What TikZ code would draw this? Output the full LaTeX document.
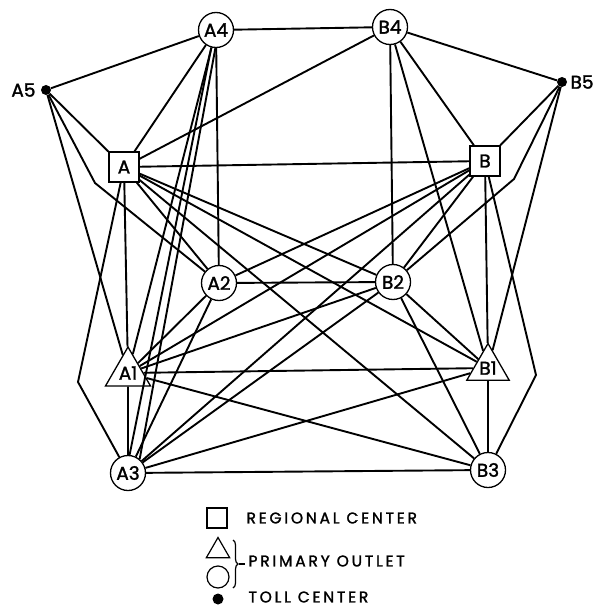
\documentclass[tikz,border=0pt]{standalone}
\usepackage{fontspec}
\setmainfont{Poppins}[FakeBold=1.6]
\newfontfamily\legfont{Poppins}[LetterSpace=18,FakeBold=1.6]
\usetikzlibrary{shapes.geometric,decorations.pathreplacing}
\begin{document}
\begin{tikzpicture}[x=1pt,y=-1pt,
  edge/.style={line width=1.9pt},
  nfont/.style={font=\fontsize{18.5}{18.5}\selectfont},
  circ/.style={circle,draw,fill=white,minimum size=35pt,inner sep=0pt,line width=1.3pt,nfont},
  sq/.style={rectangle,draw,fill=white,minimum size=30pt,inner sep=0pt,line width=1.3pt,nfont},
  tri/.style={regular polygon,regular polygon sides=3,draw,fill=white,minimum size=49pt,inner sep=0pt,line width=1.3pt,nfont},
  dot/.style={circle,fill=black,minimum size=10pt,inner sep=0pt},
  lab/.style={nfont},
  leg/.style={font=\legfont\fontsize{15.5}{16}\selectfont,anchor=west}]
\useasboundingbox (0,0) rectangle (599,607);
\coordinate (pA4) at (216,30);
\coordinate (pB4) at (390,27);
\coordinate (pA5) at (46,90);
\coordinate (pB5) at (562,82);
\coordinate (pA) at (124,167);
\coordinate (pB) at (485,161);
\coordinate (pA2) at (219,283);
\coordinate (pB2) at (393,282);
\coordinate (pA1) at (128,373);
\coordinate (pB1) at (488,368);
\coordinate (pA3) at (128,473);
\coordinate (pB3) at (488,470);
\coordinate (k1) at (95,183);
\coordinate (k2) at (514,179);
\coordinate (k3) at (78,382);
\coordinate (k4) at (536,375);
% nodes (shapes placed first, edges drawn behind)
\node[circ] (A4) at (pA4) {A4};
\node[circ] (B4) at (pB4) {B4};
\node[dot] (A5) at (pA5) {};
\node[dot] (B5) at (pB5) {};
\node[sq] (A) at (pA) {A};
\node[sq] (B) at (pB) {B};
\node[circ] (A2) at (pA2) {A2};
\node[circ] (B2) at (pB2) {B2};
\node[tri] (A1) at (pA1) {A1};
\node[tri] (B1) at (pB1) {B1};
\node[circ] (A3) at (pA3) {A3};
\node[circ] (B3) at (pB3) {B3};
\begin{scope}[edge]
\draw (A4) -- (B4);
\draw (A4) -- (A5);
\draw (A4) -- (A);
\draw (A4) -- (A2);
\draw (A4) -- (A1);
\draw (A4.255) -- (A3.85);
\draw (A4.268) -- (A3.50);
\draw (B4) -- (B5);
\draw (B4) -- (B);
\draw (B4) -- (B2);
\draw (B4) -- (B1);
\draw (B4) -- (A);
\draw (A5) -- (A);
\draw (A5) -- (A1);
\draw (A5) -- (k1) -- (A2);
\draw (B5) -- (B);
\draw (B5) -- (B1);
\draw (B5) -- (k2) -- (B2);
\draw (A) -- (B);
\draw (A) -- (A1);
\draw (A) -- (k3) -- (A3);
\draw (A) -- (A2);
\draw (A) -- (B2);
\draw (A) -- (B1);
\draw (A) -- (B3);
\draw (B) -- (B1);
\draw (B) -- (k4) -- (B3);
\draw (B) -- (A2);
\draw (B) -- (A1);
\draw (B) -- (A3);
\draw (B) -- (B2);
\draw (A2) -- (B2);
\draw (A2) -- (A1);
\draw (A2) -- (A3);
\draw (B2) -- (B1);
\draw (B2) -- (B3);
\draw (B2) -- (A1);
\draw (B2) -- (A3);
\draw (A1) -- (A3);
\draw (A1) -- (B1);
\draw (A1) -- (B3);
\draw (B1) -- (B3);
\draw (B1) -- (A3);
\draw (A3) -- (B3);
\end{scope}
\node[lab,anchor=east] (A5l) at (39,90) {A5};
\node[lab,anchor=west] (B5l) at (567,82) {B5};
% legend
\node[rectangle,draw,minimum size=20pt,inner sep=0pt,line width=1.2pt] (LS) at (217,518) {};
\node[regular polygon,regular polygon sides=3,draw,minimum size=27pt,inner sep=0pt,line width=1.2pt] (LT) at (218,551) {};
\node[circle,draw,minimum size=22pt,inner sep=0pt,line width=1.2pt] (LC) at (218,577) {};
\node[circle,fill=black,minimum size=11pt,inner sep=0pt] (LD) at (218,599) {};
\draw[line width=1.2pt,decorate,decoration={brace,amplitude=5pt}] (233,540) -- (233,588);
\draw[line width=1.2pt] (239,564) -- (245,564);
\node[leg] (L1) at (243,518) {REGIONAL CENTER};
\node[leg] (L2) at (245,561) {PRIMARY OUTLET};
\node[leg] (L3) at (245,597) {TOLL CENTER};
\end{tikzpicture}
\end{document}
